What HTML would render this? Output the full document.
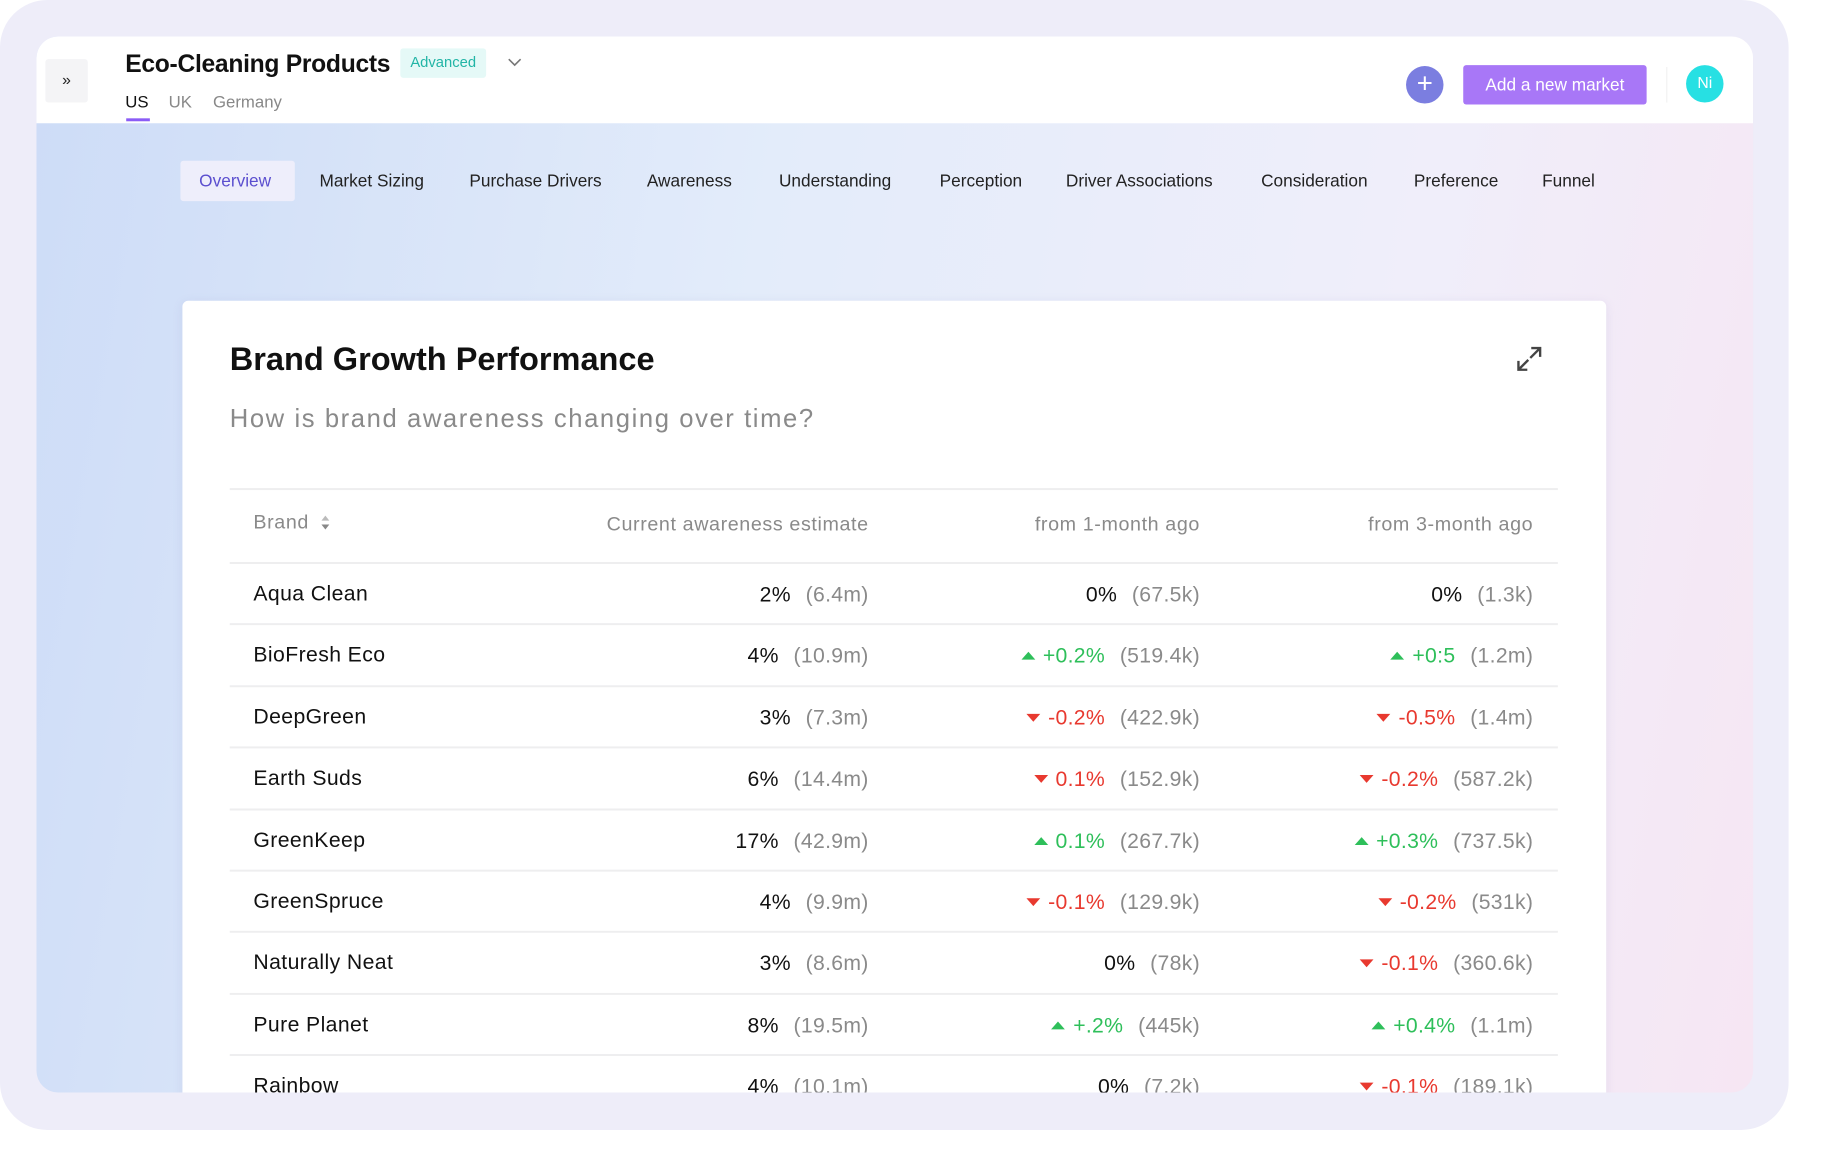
<!DOCTYPE html>
<html><head><meta charset="utf-8"><style>
*{box-sizing:border-box;margin:0;padding:0}
body{width:1840px;height:1158px;background:#fff;font-family:"Liberation Sans",sans-serif;position:relative;overflow:hidden}
#root{position:absolute;left:0;top:0;width:1866px;height:1175px;transform:scale(0.986);transform-origin:0 0}
.frame{position:absolute;left:0;top:0;width:1814px;height:1146px;background:#eeedf9;border-radius:48px}
.win{position:absolute;left:37px;top:37px;width:1741px;height:1071px;border-radius:22px;overflow:hidden;background:linear-gradient(100deg,#cddcf7 0%,#e3ecfa 40%,#f0eefa 75%,#f6e6f3 100%)}
.hdr{position:absolute;left:0;top:0;width:1741px;height:88px;background:#fff}
.abs{position:absolute}
.tab{position:absolute;top:136px;font-size:17.5px;color:#222;line-height:20px}
.card{position:absolute;left:148px;top:268px;width:1444px;height:900px;background:#fff;border-radius:6px;box-shadow:0 2px 10px rgba(120,120,180,.12)}
.line{position:absolute;left:48px;width:1347px;height:2px;background:#eeeeef}
.cell{position:absolute;font-size:21.5px;line-height:26px;white-space:nowrap;text-align:right;letter-spacing:0.3px}
.hcell{font-size:20px;letter-spacing:0.6px}
.g{color:#8a8a8a}.up{color:#2ebf5a}.dn{color:#e8392f}
.tri{display:inline-block;width:0;height:0;border-left:7px solid transparent;border-right:7px solid transparent;margin-right:8px;vertical-align:3px}
.tri.u{border-bottom:8px solid #2ebf5a}.tri.d{border-top:8px solid #e8392f}
</style></head><body>
<div id="root">
<div class="frame"></div>
<div class="win">
 <div class="hdr">
  <div class="abs" style="left:9px;top:23px;width:43px;height:44px;background:#f4f4f6;border-radius:3px;font-size:16px;text-align:center;line-height:44px;color:#222">»</div>
  <div class="abs" style="left:90px;top:14px;font-size:25px;font-weight:bold;color:#111;letter-spacing:-0.3px">Eco-Cleaning Products</div>
  <div class="abs" style="left:369px;top:12px;width:87px;height:30px;background:#e5f9f7;color:#22b5a6;font-size:15px;line-height:30px;text-align:center;border-radius:3px">Advanced</div>
  <svg class="abs" style="left:477px;top:20px" width="16" height="12"><path d="M2 3l6 6 6-6" stroke="#777" stroke-width="1.6" fill="none"/></svg>
  <div class="abs" style="left:90px;top:57px;font-size:17px;color:#111">US</div>
  <div class="abs" style="left:91px;top:83px;width:24px;height:3px;background:#8b5cf6"></div>
  <div class="abs" style="left:134px;top:57px;font-size:17px;color:#888">UK</div>
  <div class="abs" style="left:179px;top:57px;font-size:17px;color:#888">Germany</div>
  <div class="abs" style="left:1389px;top:30px;width:38px;height:38px;border-radius:50%;background:#7b7ee0;color:#fff;font-size:28px;line-height:36px;text-align:center">+</div>
  <div class="abs" style="left:1447px;top:29px;width:186px;height:40px;border-radius:3px;background:#a877f7;color:#fff;font-size:17.5px;line-height:40px;text-align:center">Add a new market</div>
  <div class="abs" style="left:1653px;top:31px;width:1px;height:36px;background:#eee"></div>
  <div class="abs" style="left:1673px;top:29px;width:38px;height:38px;border-radius:50%;background:#27e0e3;color:#fff;font-size:16px;line-height:38px;text-align:center">Ni</div>
 </div>
 <div class="abs" style="left:146px;top:126px;width:116px;height:41px;background:#eeeefb;border-radius:3px"></div>
 <div class="tab" style="left:165px;color:#5b4fcf">Overview</div>
 <div class="tab" style="left:287px">Market Sizing</div>
 <div class="tab" style="left:439px">Purchase Drivers</div>
 <div class="tab" style="left:619px">Awareness</div>
 <div class="tab" style="left:753px">Understanding</div>
 <div class="tab" style="left:916px">Perception</div>
 <div class="tab" style="left:1044px">Driver Associations</div>
 <div class="tab" style="left:1242px">Consideration</div>
 <div class="tab" style="left:1397px">Preference</div>
 <div class="tab" style="left:1527px">Funnel</div>

 <div class="card" id="card">
  <div class="abs" style="left:48px;top:40px;font-size:33px;font-weight:bold;color:#111;letter-spacing:0px">Brand Growth Performance</div>
  <div class="abs" style="left:48px;top:104px;font-size:26px;color:#8a8a8a;letter-spacing:1.6px">How is brand awareness changing over time?</div>
  <svg class="abs" style="left:1351px;top:44px" width="30" height="30"><path d="M17 4h9v9M26 4l-10 10M13 26H4v-9M4 26l10-10" stroke="#444" stroke-width="2.4" fill="none"/></svg>
  <div class="line" style="top:190px"></div>
  <div class="abs" style="left:72px;top:214px;font-size:20px;color:#8a8a8a;letter-spacing:0.6px">Brand <svg width="12" height="18" style="vertical-align:-3px;margin-left:4px"><path d="M6 2l4 5H2z" fill="#bbb"/><path d="M6 16l4-5H2z" fill="#888"/></svg></div>
  <div class="cell g hcell" style="right:748px;top:214px">Current awareness estimate</div>
  <div class="cell g hcell" style="right:412px;top:214px">from 1-month ago</div>
  <div class="cell g hcell" style="right:74px;top:214px">from 3-month ago</div>
  <div class="line" style="top:265px"></div>
  <div id="rows"></div>
 </div>
</div>
</div>
<script>
const brands=["Aqua Clean","BioFresh Eco","DeepGreen","Earth Suds","GreenKeep","GreenSpruce","Naturally Neat","Pure Planet","Rainbow"];
const currentPct=["2%","4%","3%","6%","17%","4%","3%","8%","4%"];
const currentAbs=["6.4m","10.9m","7.3m","14.4m","42.9m","9.9m","8.6m","19.5m","10.1m"];
const m1Pct=["0%","+0.2%","-0.2%","0.1%","0.1%","-0.1%","0%","+.2%","0%"];
const m1Dir=[0,1,-1,-1,1,-1,0,1,0];
const m1Abs=["67.5k","519.4k","422.9k","152.9k","267.7k","129.9k","78k","445k","7.2k"];
const m3Pct=["0%","+0:5","-0.5%","-0.2%","+0.3%","-0.2%","-0.1%","+0.4%","-0.1%"];
const m3Dir=[0,1,-1,-1,1,-1,-1,1,-1];
const m3Abs=["1.3k","1.2m","1.4m","587.2k","737.5k","531k","360.6k","1.1m","189.1k"];
const rowsEl=document.getElementById('rows');
const rowH=62.4, firstTop=267;
function changeHTML(p,d,a){
  const cls=d>0?'up':d<0?'dn':'';
  const tri=d>0?'<span class="tri u"></span>':d<0?'<span class="tri d"></span>':'';
  return tri+'<span class="'+cls+'">'+p+'</span><span class="g" style="margin-left:15px">('+a+')</span>';
}
brands.forEach((b,i)=>{
  const top=firstTop+i*rowH;
  const ty=top+18;
  const n=document.createElement('div');n.className='abs';n.style.cssText='left:72px;top:'+ty+'px;font-size:21.5px;color:#111;letter-spacing:0.4px';n.textContent=b;
  
  
  rowsEl.appendChild(n);
  const c=document.createElement('div');c.className='cell';c.style.cssText='right:748px;top:'+ty+'px;color:#111';
  c.innerHTML=currentPct[i]+'<span class="g" style="margin-left:15px">('+currentAbs[i]+')</span>';
  
  
  rowsEl.appendChild(c);
  const c1=document.createElement('div');c1.className='cell';c1.style.cssText='right:412px;top:'+ty+'px;color:#111';
  c1.innerHTML=changeHTML(m1Pct[i],m1Dir[i],m1Abs[i]);
  
  
  rowsEl.appendChild(c1);
  const c3=document.createElement('div');c3.className='cell';c3.style.cssText='right:74px;top:'+ty+'px;color:#111';
  c3.innerHTML=changeHTML(m3Pct[i],m3Dir[i],m3Abs[i]);
  
  
  rowsEl.appendChild(c3);
  if(i<brands.length-1){
    const l=document.createElement('div');l.className='line';l.style.top=(top+rowH-2)+'px';
    
    
    rowsEl.appendChild(l);
  }
});
</script>
</body></html>
